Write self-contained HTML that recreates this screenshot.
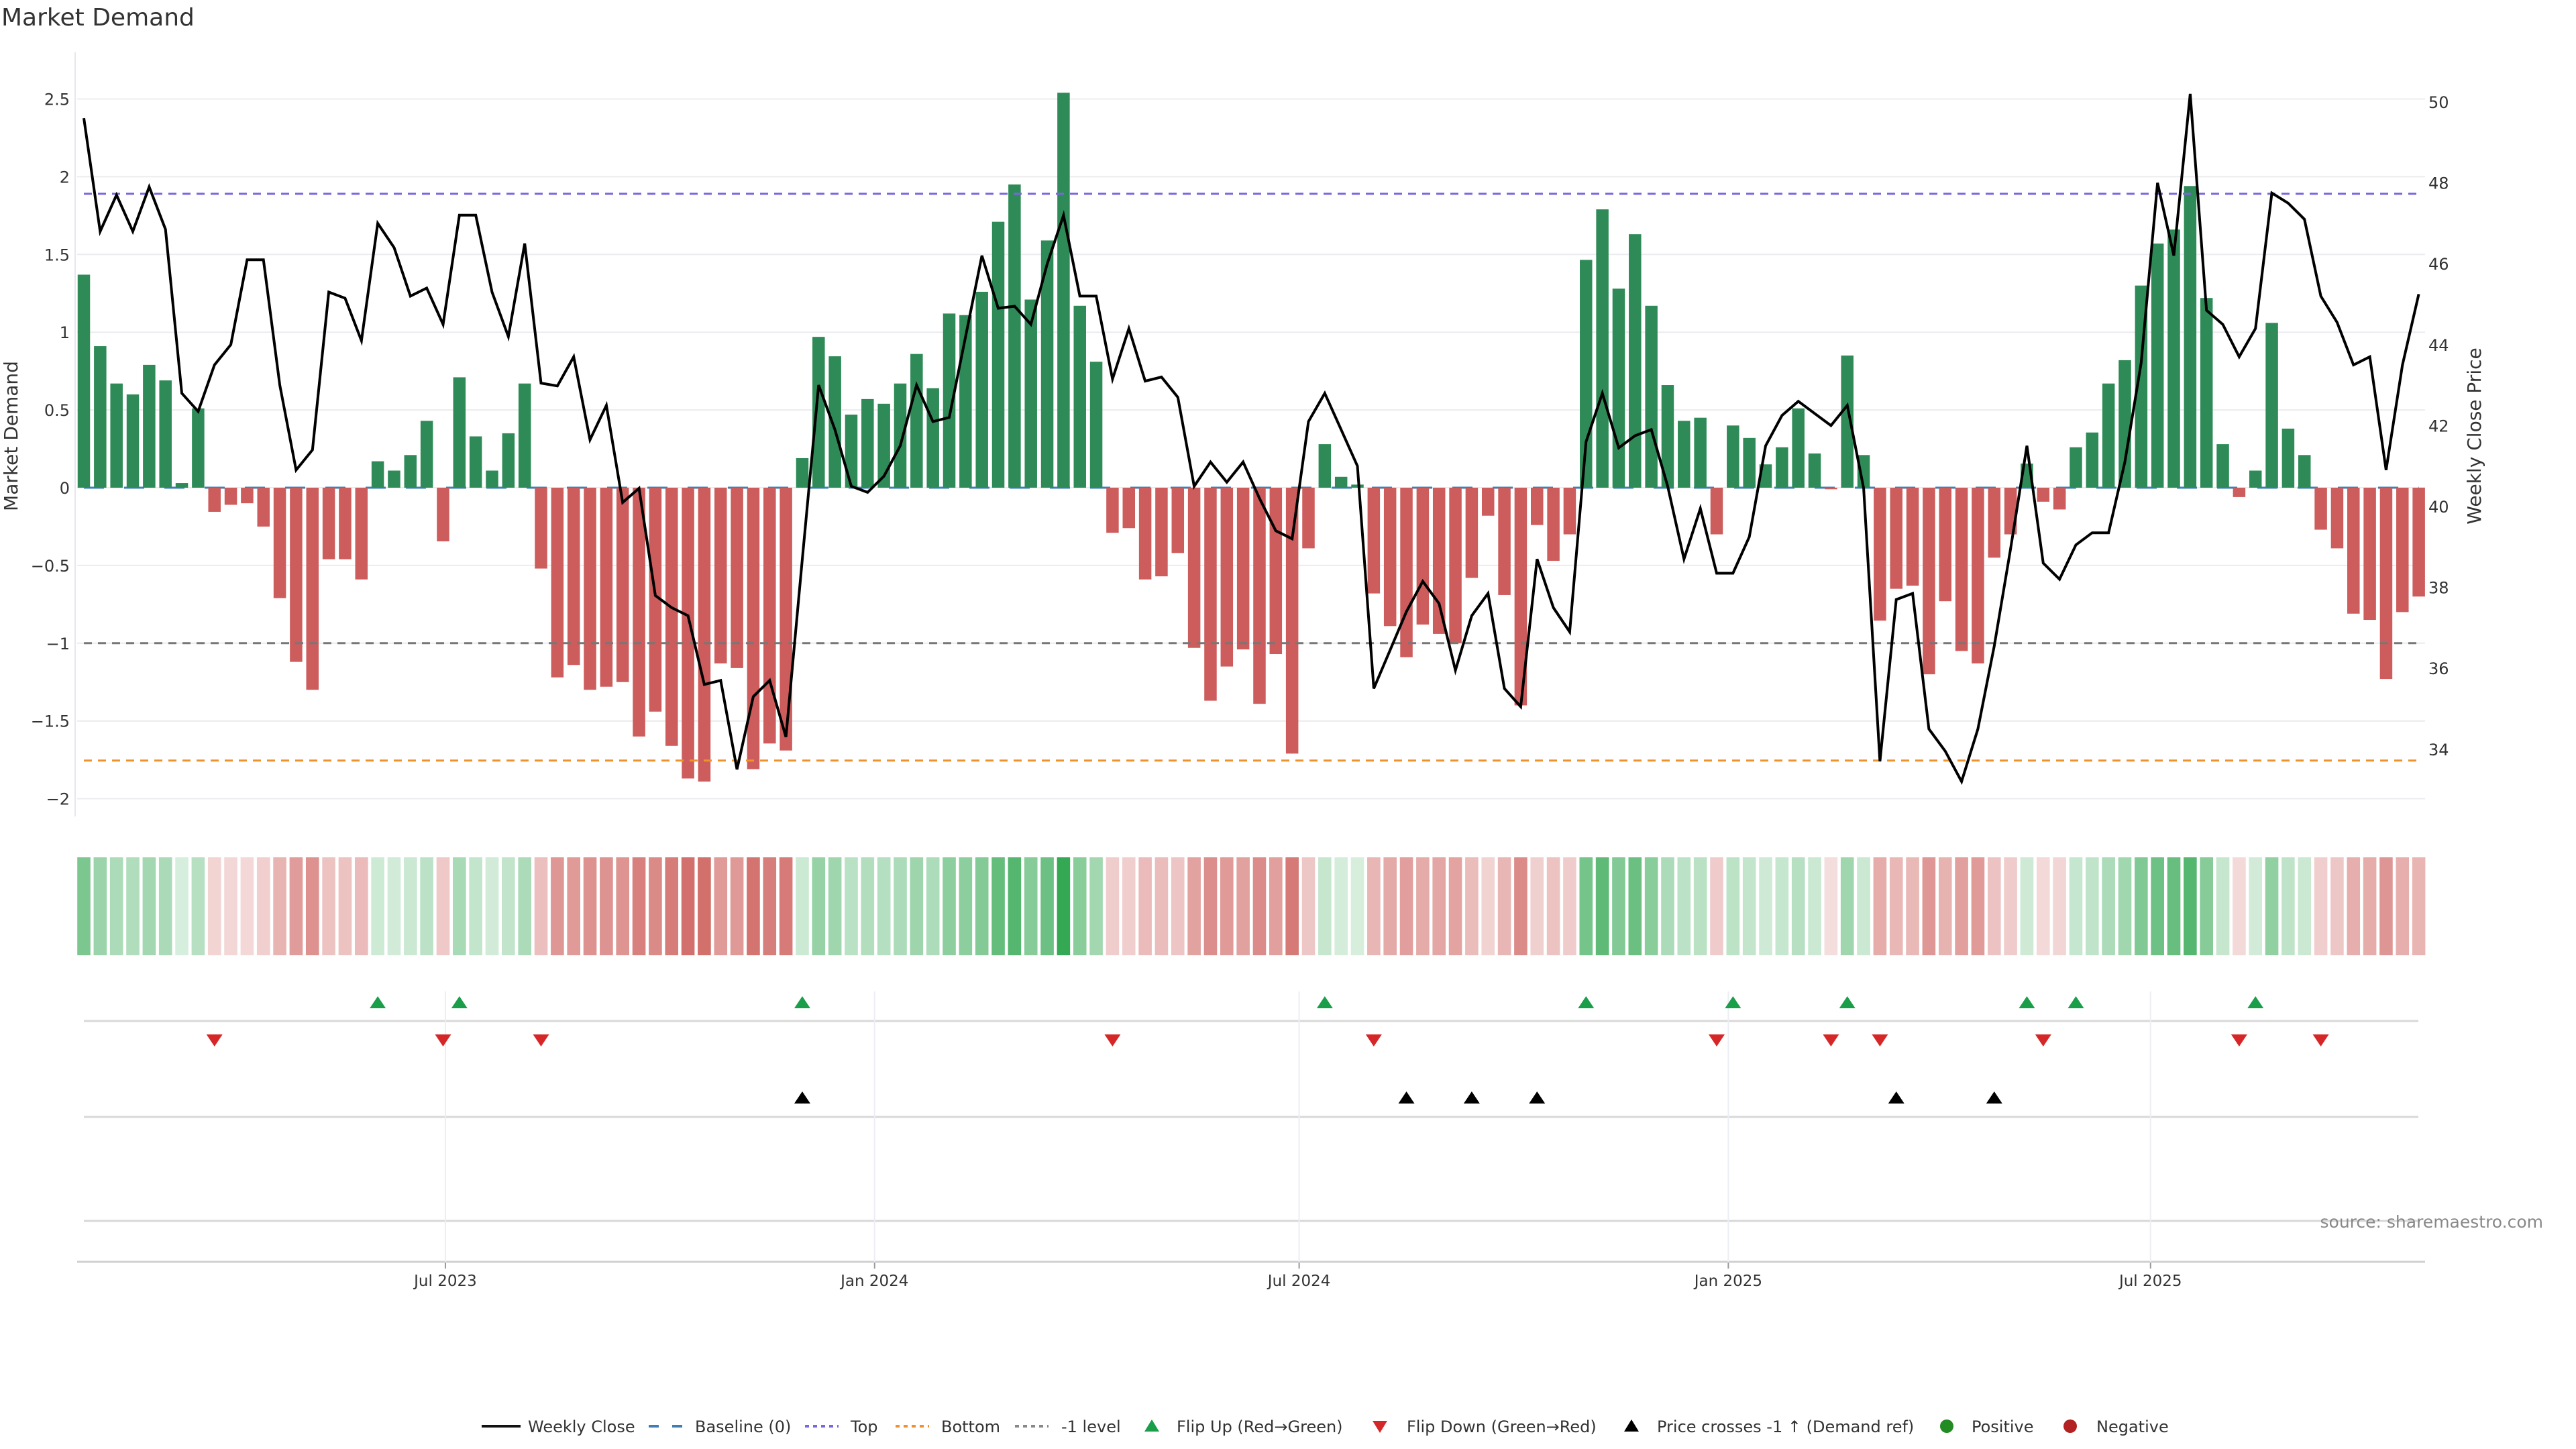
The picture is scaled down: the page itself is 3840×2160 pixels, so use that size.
<!DOCTYPE html>
<html><head><meta charset="utf-8"><title>Market Demand</title>
<style>
html,body{margin:0;padding:0;background:#fff;}
svg{display:block;font-family:"DejaVu Sans","Liberation Sans",sans-serif;}
</style></head>
<body>
<svg id="chart" xmlns="http://www.w3.org/2000/svg" width="3840" height="2160" viewBox="0 0 3840 2160">
<rect x="0" y="0" width="3840" height="2160" fill="#fff"/>
<text x="2" y="38" font-size="36" fill="#333">Market Demand</text>
<g id="grid"></g>
<g id="bars"></g>
<g id="refs"></g>
<g id="price"></g>
<g id="axes"></g>
<g id="heat"></g>
<g id="markers"></g>
<text x="3791" y="1830" font-size="25" fill="#888" text-anchor="end">source: sharemaestro.com</text>
<g id="legend"></g>
</svg>
<script>
const demand = [1.37,0.91,0.67,0.60,0.79,0.69,0.03,0.51,-0.155,-0.11,
-0.10,-0.25,-0.71,-1.12,-1.30,-0.46,-0.46,-0.59,0.17,0.11,
0.21,0.43,-0.345,0.71,0.33,0.11,0.35,0.67,-0.52,-1.22,
-1.14,-1.30,-1.28,-1.25,-1.60,-1.44,-1.66,-1.87,-1.89,-1.13,
-1.16,-1.81,-1.645,-1.69,0.19,0.97,0.845,0.47,0.57,0.54,
0.67,0.86,0.64,1.12,1.11,1.26,1.71,1.95,1.21,1.59,
2.54,1.17,0.81,-0.29,-0.26,-0.59,-0.57,-0.42,-1.03,-1.37,
-1.15,-1.04,-1.39,-1.07,-1.71,-0.39,0.28,0.07,0.02,-0.68,
-0.89,-1.09,-0.88,-0.94,-1.00,-0.58,-0.18,-0.69,-1.40,-0.24,
-0.47,-0.30,1.465,1.79,1.28,1.63,1.17,0.66,0.43,0.45,
-0.30,0.40,0.32,0.15,0.26,0.51,0.22,-0.01,0.85,0.21,
-0.855,-0.65,-0.63,-1.20,-0.73,-1.05,-1.13,-0.45,-0.30,0.155,
-0.09,-0.14,0.26,0.355,0.67,0.82,1.30,1.57,1.66,1.94,
1.22,0.28,-0.06,0.11,1.06,0.38,0.21,-0.27,-0.39,-0.81,
-0.85,-1.23,-0.80,-0.70];
const closePrice = [49.6,46.8,47.7,46.8,47.9,46.85,42.8,42.35,43.5,44.0,
46.1,46.1,43.0,40.9,41.4,45.3,45.15,44.1,47.0,46.4,
45.2,45.4,44.5,47.2,47.2,45.3,44.2,46.5,43.05,42.98,
43.7,41.65,42.5,40.1,40.45,37.8,37.5,37.3,35.6,35.7,
33.5,35.3,35.7,34.3,38.7,43.0,41.9,40.5,40.35,40.75,
41.5,43.0,42.1,42.2,44.2,46.2,44.9,44.95,44.5,46.0,
47.2,45.2,45.2,43.15,44.4,43.1,43.2,42.7,40.5,41.1,
40.6,41.1,40.2,39.4,39.2,42.1,42.8,41.9,41.0,35.5,
36.45,37.4,38.15,37.6,35.95,37.3,37.85,35.5,35.05,38.7,
37.5,36.9,41.6,42.8,41.45,41.75,41.9,40.5,38.7,39.95,
38.35,38.35,39.25,41.5,42.25,42.6,42.3,42.0,42.5,40.45,
33.7,37.7,37.85,34.5,33.95,33.2,34.5,36.55,38.95,41.5,
38.6,38.2,39.05,39.35,39.35,41.1,43.55,48.0,46.2,50.2,
44.85,44.5,43.7,44.4,47.75,47.5,47.1,45.2,44.55,43.5,
43.7,40.9,43.5,45.25];
const flipUpIdx = [19,24,45,77,93,102,109,120,123,134];
const flipDownIdx = [9,23,29,64,80,101,108,111,121,133,138];
const priceCrossIdx = [45,82,86,90,112,118];
const leftTicks = [2.5,2,1.5,1,0.5,0,-0.5,-1,-1.5,-2];
const leftTickLabels = ["2.5","2","1.5","1","0.5","0","−0.5","−1","−1.5","−2"];
const rightTicks = [50,48,46,44,42,40,38,36,34];
const xTickDates = ["2023-07-01","2024-01-01","2024-07-01","2025-01-01","2025-07-01"];
const xTickLabels = ["Jul 2023","Jan 2024","Jul 2024","Jan 2025","Jul 2025"];
const topLevel = 1.89, bottomLevel = -1.755, minusOneLevel = -1;

const NS = "http://www.w3.org/2000/svg";
const PL = 115, PR = 3615, X0 = 125, PITCH = 24.34;
const firstDate = new Date("2023-01-27T00:00:00Z");
function xIdx(i){ return X0 + i*PITCH; }
function xDate(s){ const d = new Date(s+"T00:00:00Z"); return X0 + (d-firstDate)/(7*864e5)*PITCH; }
function yV(v){ return 727 - v*231.8; }
function yP(p){ return 152 + (50-p)*60.3; }
function mk(tag, attrs, parent){ const e=document.createElementNS(NS,tag); for(const k in attrs) e.setAttribute(k,attrs[k]); parent.appendChild(e); return e; }
const g = id => document.getElementById(id);

// grid
leftTicks.forEach((t,i)=>{
  const l = mk('line',{x1:PL,x2:PR,y1:yV(t),y2:yV(t),stroke:'#ececf0','stroke-width':2},g('grid'));
  
  
  const tx = mk('text',{x:104,y:yV(t)+9,'font-size':24,fill:'#333','text-anchor':'end'},g('axes'));
  tx.textContent = leftTickLabels[i];
  
  
});
rightTicks.forEach(t=>{
  const tx = mk('text',{x:3620,y:yP(t)+9,'font-size':24,fill:'#333'},g('axes'));
  tx.textContent = String(t);
  
  
});
const ax = mk('line',{x1:PL-3,x2:PL-3,y1:78,y2:1217,stroke:'#e6e6ee','stroke-width':2},g('axes'));


const yl = mk('text',{transform:'translate(26,650) rotate(-90)','font-size':28,fill:'#333','text-anchor':'middle'},g('axes'));
yl.textContent='Market Demand';


const yr = mk('text',{transform:'translate(3698,650) rotate(-90)','font-size':28,fill:'#333','text-anchor':'middle'},g('axes'));
yr.textContent='Weekly Close Price';



// baseline
const bl = mk('line',{x1:X0,x2:xIdx(demand.length-1),y1:yV(0),y2:yV(0),stroke:'#3d7fb5','stroke-width':3,'stroke-dasharray':'30 30'},g('bars'));



// bars
const BW = 18.5;
demand.forEach((v,i)=>{
  const y0=yV(0), y1=yV(v);
  const r = mk('rect',{x:xIdx(i)-BW/2,y:Math.min(y0,y1),width:BW,height:Math.max(1,Math.abs(y1-y0)),fill:v>=0?'#2e8b57':'#cd5c5c'},g('bars'));
  
  
});

// reference lines
[[topLevel,'#7a66dd','top-level-line'],[bottomLevel,'#f0922b','bottom-level-line'],[minusOneLevel,'#777','minus-one-level-line']].forEach(a=>{
  const l = mk('line',{x1:X0,x2:xIdx(demand.length-1),y1:yV(a[0]),y2:yV(a[0]),stroke:a[1],'stroke-width':3,'stroke-dasharray':'12 9'},g('refs'));
  
  
});

// price line
const pts = closePrice.map((p,i)=>xIdx(i).toFixed(1)+','+yP(p).toFixed(1)).join(' ');
const pl = mk('polyline',{points:pts,fill:'none',stroke:'#000','stroke-width':4,'stroke-linejoin':'miter'},g('price'));



// heat strip
const maxAbs = 2.54;
demand.forEach((v,i)=>{
  const a = Math.min(1, 0.19 + 0.8*Math.abs(v)/maxAbs*1.06);
  const r = mk('rect',{x:xIdx(i)-9.8,y:1278,width:19.6,height:146,fill:v>=0?'rgb(52,168,83)':'rgb(200,80,76)','fill-opacity':a.toFixed(3)},g('heat'));
  
  
});

// marker area lines
[1522,1665,1820].forEach(y=>{
  const l = mk('line',{x1:X0,x2:PR-10,y1:y,y2:y,stroke:'#d8d8d8','stroke-width':3},g('markers'));
  
  
});
xTickDates.forEach((d,i)=>{
  const x = xDate(d);
  const l = mk('line',{x1:x,x2:x,y1:1478,y2:1881,stroke:'#eceef3','stroke-width':2},g('markers'));
  
  
  const tk = mk('line',{x1:x,x2:x,y1:1881,y2:1891,stroke:'#999','stroke-width':2},g('axes'));
  
  
  const t = mk('text',{x:x,y:1917,'font-size':23,fill:'#333','text-anchor':'middle'},g('axes'));
  t.textContent = xTickLabels[i];
  
  
});
const xa = mk('line',{x1:PL,x2:PR,y1:1881,y2:1881,stroke:'#d0d0d0','stroke-width':3},g('axes'));



function tri(x,y,up,color,name){
  const h=18,w=12;
  const p = up ? `${x},${y-h/2} ${x-w},${y+h/2} ${x+w},${y+h/2}` : `${x-w},${y-h/2} ${x+w},${y-h/2} ${x},${y+h/2}`;
  const t = mk('polygon',{points:p,fill:color},g('markers'));
  return t;
}
flipUpIdx.forEach(i=>{
  const t = tri(xIdx(i-1),1494,true,'#1a9e4a');
  
  
});
flipDownIdx.forEach(i=>{
  const t = tri(xIdx(i-1),1551,false,'#d62728');
  
  
});
priceCrossIdx.forEach(i=>{
  const t = tri(xIdx(i-1),1636,true,'#000');
  
  
});

// legend
const LY = 2126, LG = g('legend');
function ltext(x,s){ const t=mk('text',{x:x,y:LY+9,'font-size':24,fill:'#333'},LG); t.textContent=s; return t; }
function litem(name){ const e=mk('g',{},LG); return e; }
let e;
e = mk('line',{x1:718,x2:776,y1:LY,y2:LY,stroke:'#111','stroke-width':4},LG);


e = ltext(787,'Weekly Close');


e = mk('line',{x1:967,x2:1018,y1:LY,y2:LY,stroke:'#3d7fb5','stroke-width':4,'stroke-dasharray':'15 20'},LG);


e = ltext(1036,'Baseline (0)');


e = mk('line',{x1:1200,x2:1250,y1:LY,y2:LY,stroke:'#7a66dd','stroke-width':4,'stroke-dasharray':'6 6'},LG);


e = ltext(1268,'Top');


e = mk('line',{x1:1335,x2:1385,y1:LY,y2:LY,stroke:'#f0922b','stroke-width':4,'stroke-dasharray':'6 6'},LG);


e = ltext(1403,'Bottom');


e = mk('line',{x1:1513,x2:1563,y1:LY,y2:LY,stroke:'#888','stroke-width':4,'stroke-dasharray':'6 6'},LG);


e = ltext(1582,'-1 level');


e = mk('polygon',{points:'1717,2116 1706,2134 1728,2134',fill:'#1a9e4a'},LG);


e = ltext(1754,'Flip Up (Red→Green)');


e = mk('polygon',{points:'2046,2118 2068,2118 2057,2136',fill:'#d62728'},LG);


e = ltext(2097,'Flip Down (Green→Red)');


e = mk('polygon',{points:'2432,2116 2421,2134 2443,2134',fill:'#000'},LG);


e = ltext(2470,'Price crosses -1 ↑ (Demand ref)');


e = mk('circle',{cx:2902,cy:LY,r:10,fill:'#228b22'},LG);


e = ltext(2939,'Positive');


e = mk('circle',{cx:3086,cy:LY,r:10,fill:'#b22222'},LG);


e = ltext(3125,'Negative');


</script>
</body></html>
